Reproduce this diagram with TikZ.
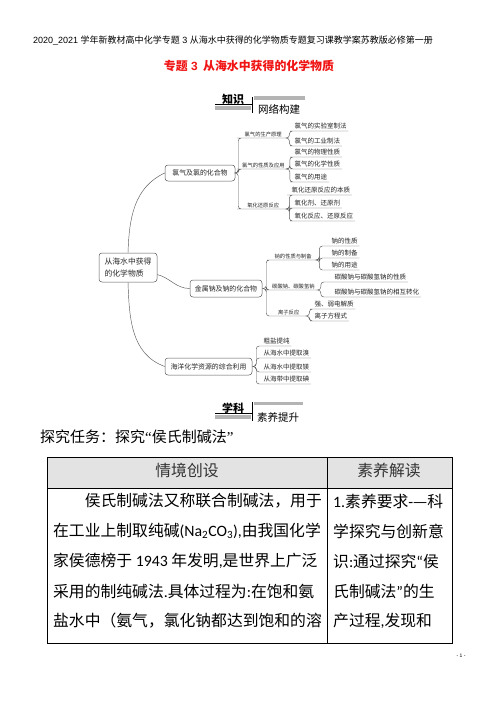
\documentclass[tikz,border=0pt]{standalone}
\usepackage{fontspec}
\setmainfont{Liberation Serif}
\newfontfamily\cjk{Noto Sans CJK SC}
\newfontfamily\arial{Liberation Sans}
\newfontfamily\calib{Carlito}
\definecolor{mapline}{HTML}{5A5A5A}
\definecolor{bargray}{HTML}{B4B4B4}
\definecolor{headgray}{HTML}{E3E3E3}
\definecolor{titlered}{HTML}{F01414}

\tikzset{
  topic/.style={draw=mapline, line width=.5bp, rounded corners=3bp, inner sep=0pt, text=black!85, font=\cjk\fontsize{6.9bp}{8bp}\selectfont},
  subtopic/.style={anchor=south west, minimum width=46bp, inner xsep=2bp, inner ysep=1.3bp, text=black!85, font=\cjk\fontsize{5.3bp}{6bp}\selectfont},
  leaf/.style={anchor=south west, inner xsep=1.5bp, inner ysep=1.3bp, text=black!85, font=\cjk\fontsize{6.5bp}{7bp}\selectfont},
  link/.style={draw=mapline, line width=.45bp, rounded corners=3bp},
  cell/.style={anchor=west, inner sep=0pt, font=\cjk\fontsize{15.8bp}{18bp}\selectfont},
}

\begin{document}
\begin{tikzpicture}[x=1bp,y=-1bp]
\fill[white] (0,0) rectangle (496,702);
\useasboundingbox (0,0) rectangle (496,702);

\node[anchor=west, inner sep=0pt, font=\cjk\fontsize{9bp}{10bp}\selectfont] (pagehead) at (33,41) {{\arial 2020\_2021 }学年新教材高中化学专题{\arial\ 3 }从海水中获得的化学物质专题复习课教学案苏教版必修第一册};
\node[inner sep=0pt, text=titlered, font=\cjk\bfseries\fontsize{11.9bp}{13bp}\selectfont] (title) at (249,66) {专题{\arial\bfseries\ 3} \ 从海水中获得的化学物质};

% knowledge header
\fill[bargray] (254,96.5) rectangle (305,100.5);
\fill[bargray] (215,106) rectangle (251,110);
\draw[line width=.6bp] (215,104) -- (252,104);
\draw[line width=.6bp] (252.5,97) -- (252.5,113);
\node[inner sep=0pt, font=\cjk\bfseries\fontsize{11bp}{12bp}\selectfont] (zhishi) at (233,99) {知识};
\node[inner sep=0pt, font=\cjk\fontsize{10.5bp}{12bp}\selectfont] (wangluo) at (279,109) {网络构建};

\node[topic, minimum width=58bp, minimum height=29bp, align=left, font=\cjk\fontsize{7.8bp}{12.5bp}\selectfont] (root) at (128,267.5) {从海水中获得\\的化学物质};
\node[topic, minimum width=70bp, minimum height=16bp] (b1) at (200,173) {氯气及氯的化合物};
\node[topic, minimum width=72bp, minimum height=17bp] (b2) at (226,288.5) {金属钠及钠的化合物};
\node[topic, minimum width=87bp, minimum height=17bp] (b3) at (208.5,366.5) {海洋化学资源的综合利用};

\draw[link] (root.north) to[out=88,in=205] (b1.west);
\draw[link] ([yshift=-7bp]root.east) to[out=-15,in=180] (b2.west);
\draw[link] (root.south) to[out=-88,in=160] (b3.west);

\node[subtopic] (s11) at (240,138) {氯气的生产原理};
\node[subtopic] (s12) at (240,169) {氯气的性质及应用};
\node[subtopic] (s13) at (240,209) {氧化还原反应};
\draw[link] (b1.east) -- ++(3,0) |- (s11.south west) -- (s11.south east);
\draw[link] (b1.east) -- ++(3,0) |- (s12.south west) -- (s12.south east);
\draw[link] (b1.east) -- ++(3,0) |- (s13.south west) -- (s13.south east);

\node[leaf] (l111) at (293,131) {氯气的实验室制法};
\node[leaf] (l112) at (293,146) {氯气的工业制法};
\node[leaf] (l121) at (293,157) {氯气的物理性质};
\node[leaf] (l122) at (293,169) {氯气的化学性质};
\node[leaf] (l123) at (293,182) {氯气的用途};
\node[leaf] (l131) at (290,195) {氧化还原反应的本质};
\node[leaf] (l132) at (293,208) {氧化剂、还原剂};
\node[leaf] (l133) at (293,221) {氧化反应、还原反应};
\draw[link] (s11.south east) -- ++(3,0) |- (l111.south west) -- (l111.south east);
\draw[link] (s11.south east) -- ++(3,0) |- (l112.south west) -- (l112.south east);
\draw[link] (s12.south east) -- ++(3,0) |- (l121.south west) -- (l121.south east);
\draw[link] (s12.south east) -- ++(3,0) |- (l122.south west) -- (l122.south east);
\draw[link] (s12.south east) -- ++(3,0) |- (l123.south west) -- (l123.south east);
\draw[link] (s13.south east) -- ++(3,0) |- (l131.south west) -- (l131.south east);
\draw[link] (s13.south east) -- ++(3,0) |- (l132.south west) -- (l132.south east);
\draw[link] (s13.south east) -- ++(3,0) |- (l133.south west) -- (l133.south east);

\node[subtopic] (s21) at (270,260) {钠的性质与制备};
\node[subtopic] (s22) at (270,290) {碳酸钠、碳酸氢钠};
\node[subtopic, minimum width=33bp] (s23) at (272,316) {离子反应};
\draw[link] (b2.east) -- ++(4,0) |- (s21.south west) -- (s21.south east);
\draw[link] (b2.east) -- ++(4,0) |- (s22.south west) -- (s22.south east);
\draw[link] (b2.east) -- ++(4,0) |- (s23.south west) -- (s23.south east);

\node[leaf] (l211) at (330,246) {钠的性质};
\node[leaf] (l212) at (330,258) {钠的制备};
\node[leaf] (l213) at (330,270) {钠的用途};
\node[leaf] (l221) at (333,282) {碳酸钠与碳酸氢钠的性质};
\node[leaf] (l222) at (333,297) {碳酸钠与碳酸氢钠的相互转化};
\node[leaf] (l231) at (313,309) {强、弱电解质};
\node[leaf] (l232) at (313,321) {离子方程式};
\draw[link] (s21.south east) -- ++(3,0) |- (l211.south west) -- (l211.south east);
\draw[link] (s21.south east) -- ++(3,0) |- (l212.south west) -- (l212.south east);
\draw[link] (s21.south east) -- ++(3,0) |- (l213.south west) -- (l213.south east);
\draw[link] (s22.south east) -- ++(4,0) |- (l221.south west) -- (l221.south east);
\draw[link] (s22.south east) -- ++(4,0) |- (l222.south west) -- (l222.south east);
\draw[link] (s23.south east) -- ++(4,0) |- (l231.south west) -- (l231.south east);
\draw[link] (s23.south east) -- ++(4,0) |- (l232.south west) -- (l232.south east);

\node[leaf] (l31) at (262,346) {粗盐提纯};
\node[leaf] (l32) at (262,358) {从海水中提取溴};
\node[leaf] (l33) at (262,372) {从海水中提取镁};
\node[leaf] (l34) at (262,384) {从海带中提取碘};
\draw[link] (b3.east) -- ++(4,0) |- (l31.south west) -- (l31.south east);
\draw[link] (b3.east) -- ++(4,0) |- (l32.south west) -- (l32.south east);
\draw[link] (b3.east) -- ++(4,0) |- (l33.south west) -- (l33.south east);
\draw[link] (b3.east) -- ++(4,0) |- (l34.south west) -- (l34.south east);

% subject header
\fill[bargray] (254,401.5) rectangle (303,405);
\fill[bargray] (215,415) rectangle (251,418.5);
\draw[line width=.6bp] (215,413) -- (252,413);
\draw[line width=.6bp] (252.5,402) -- (252.5,421);
\node[inner sep=0pt, font=\cjk\bfseries\fontsize{11bp}{12bp}\selectfont] (xueke) at (233,408) {学科};
\node[inner sep=0pt, font=\cjk\fontsize{10.5bp}{12bp}\selectfont] (suyang) at (278,417) {素养提升};

\node[anchor=west, inner sep=0pt, font=\cjk\fontsize{15bp}{17bp}\selectfont] (task) at (40,437) {探究任务：探究{\rmfamily “}侯氏制碱法{\rmfamily ”}};

% table
\fill[headgray] (47,457) rectangle (452,488);
\draw[line width=1bp] (47,457) rectangle (452,643);
\draw[line width=1bp] (47,488) -- (452,488);
\draw[line width=1bp] (327,457) -- (327,643);
\node[cell, anchor=center, text=black!80] (h1) at (187,470) {情境创设};
\node[cell, anchor=center, text=black!80] (h2) at (389,470) {素养解读};
\node[cell] (r1) at (84.6,501) {侯氏制碱法又称联合制碱法，用于};
\node[cell] (r2) at (53,531) {在工业上制取纯碱{\calib(Na\textsubscript{2}CO\textsubscript{3}),}由我国化学};
\node[cell] (r3) at (53,561) {家侯德榜于{\calib\ 1943 }年发明{\calib,}是世界上广泛};
\node[cell] (r4) at (53,591) {采用的制纯碱法{\calib.}具体过程为{\calib:}在饱和氨};
\node[cell] (r5) at (53,621) {盐水中（氨气，氯化钠都达到饱和的溶};
\node[cell] (q1) at (333,501) {{\calib 1.}素养要求{\calib -}—科};
\node[cell] (q2) at (333,531) {学探究与创新意};
\node[cell] (q3) at (333,561) {识{\calib:}通过探究{\calib “}侯};
\node[cell] (q4) at (333,591) {氏制碱法{\calib ”}的生};
\node[cell] (q5) at (333,621) {产过程{\calib,}发现和};

\node[inner sep=0pt, font=\arial\fontsize{5bp}{6bp}\selectfont] (pnum) at (461,656) {- 1 -};
\end{tikzpicture}
\end{document}
